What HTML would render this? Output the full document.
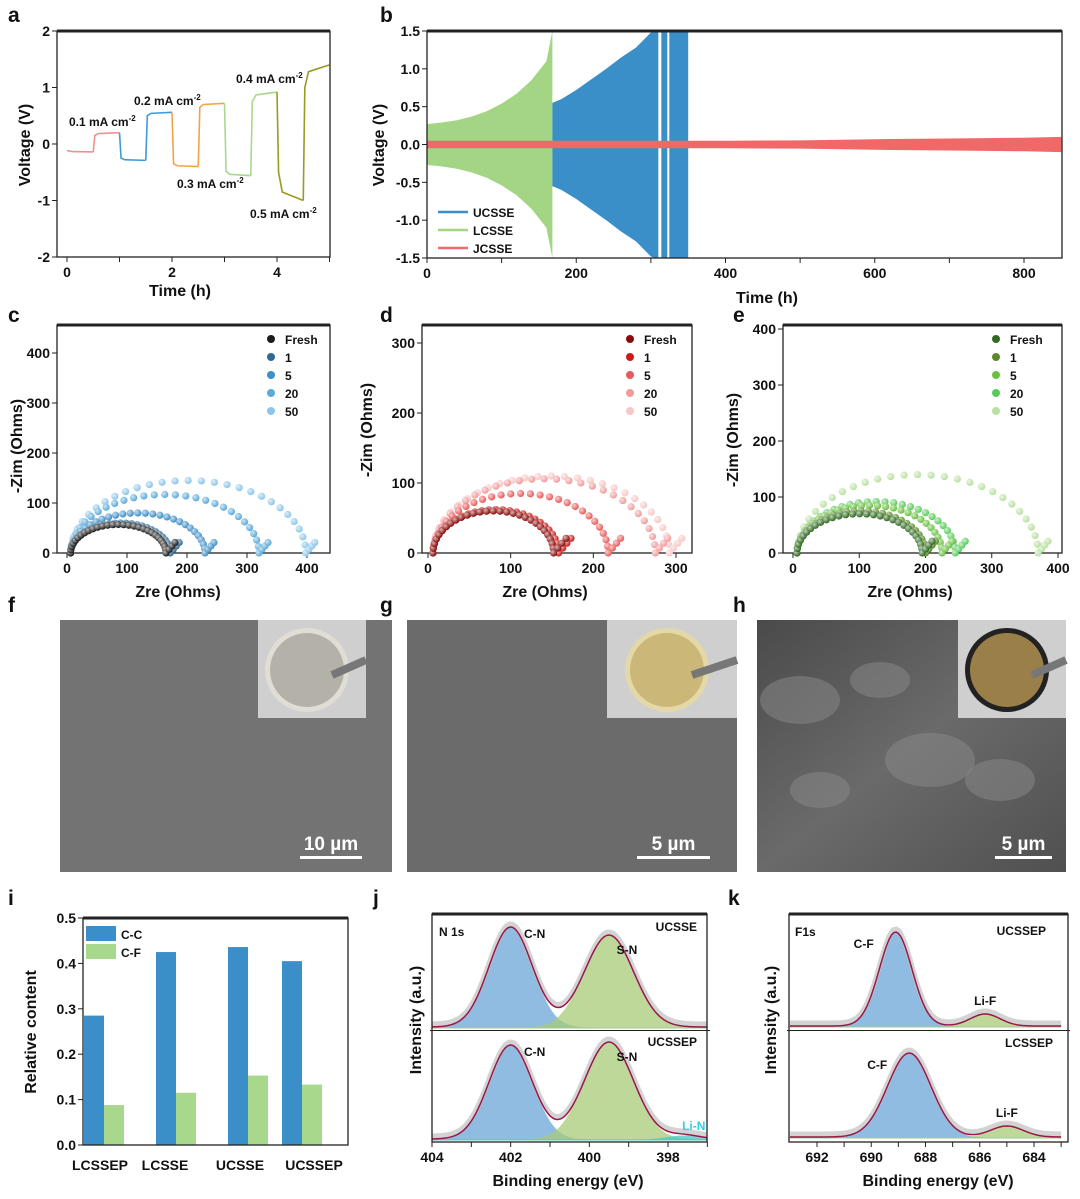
<!DOCTYPE html>
<html><head><meta charset="utf-8"><style>
body{margin:0;background:#fff}
svg{display:block;font-family:"Liberation Sans",Arial,sans-serif;font-weight:bold}
</style></head><body>
<svg id="fig" width="1080" height="1199" viewBox="0 0 1080 1199" xmlns="http://www.w3.org/2000/svg">
<defs>
<radialGradient id="sph" cx="35%" cy="35%" r="65%"><stop offset="0" stop-color="#fff" stop-opacity="0.7"/><stop offset="1" stop-color="#fff" stop-opacity="0"/></radialGradient>
<linearGradient id="semh" x1="0" y1="0" x2="1" y2="1"><stop offset="0" stop-color="#4a4a4a"/><stop offset="0.5" stop-color="#6a6a6a"/><stop offset="1" stop-color="#505050"/></linearGradient>
</defs>
</svg>
<script>
// ---- data ----
const aSegT0=[0,0.5,1,1.5,2,2.5,3,3.5,4,4.5];
const aSegV0=[-0.12,0.15,-0.25,0.5,-0.35,0.65,-0.48,0.75,-0.5,1.0];
const aSegV1=[-0.14,0.2,-0.29,0.56,-0.4,0.72,-0.56,0.92,-1.0,1.4];
const aSegC=["#f29090","#f29090","#3f9bd6","#3f9bd6","#f4a24a","#f4a24a","#a8d98a","#a8d98a","#9b9a22","#9b9a22"];
const bLT=[0,20,40,60,80,100,120,140,160,168];
const bLA=[0.27,0.29,0.32,0.37,0.44,0.54,0.67,0.85,1.1,1.5];
const bUT=[168,180,200,220,240,260,280,300,305,350];
const bUA=[0.55,0.6,0.72,0.86,1.0,1.15,1.28,1.48,1.5,1.5];
const bJT=[0,200,400,500,600,700,800,850];
const bJA=[0.05,0.05,0.05,0.055,0.07,0.08,0.09,0.1];
const nyLabels=["Fresh","1","5","20","50"];
const cEnd=[165,172,230,320,398];
const cH=[57,60,80,117,145];
const dEnd=[152,158,218,275,292];
const dH=[60,62,85,106,110];
const eEnd=[195,200,225,245,370];
const eH=[70,75,85,92,140];
const iCats=["LCSSEP","LCSSE","UCSSE","UCSSEP"];
const iCC=[0.285,0.425,0.436,0.405];
const iCF=[0.088,0.115,0.153,0.133];

const NS="http://www.w3.org/2000/svg";
const svg=document.getElementById('fig');
function el(tag,attrs,name,parent){
  const e=document.createElementNS(NS,tag);
  for(const k in attrs)e.setAttribute(k,attrs[k]);
  
  
  (parent||svg).appendChild(e);return e;
}
function txt(x,y,s,size,name,anchor,extra){
  const t=el('text',Object.assign({x:x,y:y,'font-size':size,'text-anchor':anchor||'middle',fill:'#111'},extra||{}),name);
  t.textContent=s;return t;
}
function txtSup(x,y,s,sup,size,name){
  const t=el('text',{x:x,y:y,'font-size':size,'text-anchor':'start',fill:'#111'},name);
  t.appendChild(document.createTextNode(s));
  const sp=el('tspan',{dy:-5,'font-size':8},name+'-superscript',t);
  sp.textContent=sup;return t;
}
function frame(x0,y0,x1,y1,name){
  el('rect',{x:x0,y:y0,width:x1-x0,height:y1-y0,fill:'none',stroke:'#222','stroke-width':1.3},name);
  el('line',{x1:x0,y1:y0,x2:x1,y2:y0,stroke:'#222','stroke-width':3},name+'-top');
}
function lin(d0,d1,r0,r1){return v=>r0+(v-d0)*(r1-r0)/(d1-d0);}
function xticks(xs,vals,labs,yb,name,size){
  vals.forEach((v,i)=>{el('line',{x1:xs(v),y1:yb,x2:xs(v),y2:yb+5,stroke:'#222'},name+'-tick');
    if(labs)txt(xs(v),yb+20,labs[i],size||14,name+'-label');});
}
function yticks(ys,vals,labs,xl,name,size){
  vals.forEach((v,i)=>{el('line',{x1:xl-5,y1:ys(v),x2:xl,y2:ys(v),stroke:'#222'},name+'-tick');
    if(labs)txt(xl-7,ys(v)+5,labs[i],size||14,name+'-label','end');});
}
function ytitle(x,y,s,name,size){txt(x,y,s,size||16,name,'middle',{transform:`rotate(-90 ${x} ${y})`});}
function plab(x,y,s){txt(x,y,s,21,'panel-label-'+s,'start');}

// ---- panel a ----
plab(8,22,'a');
{const xs=lin(0,5,67,329.5),ys=lin(-2,2,257,31);
frame(57,31,330,257,'a-plot-frame');
xticks(xs,[0,2,4],['0','2','4'],257,'a-x');
xticks(xs,[1,3,5],null,257,'a-x-minor');
yticks(ys,[-2,-1,0,1,2],['-2','-1','0','1','2'],57,'a-y');
aSegT0.forEach((t,i)=>{
  const prev=i>0?aSegV1[i-1]:aSegV0[0];
  const d=`M${xs(t)},${ys(prev)} L${xs(t+0.03)},${ys(aSegV0[i])} L${xs(t+0.1)},${ys((aSegV0[i]*0.3+aSegV1[i]*0.7))} L${xs(t+0.5)},${ys(aSegV1[i])}`;
  el('path',{d:d,fill:'none',stroke:aSegC[i],'stroke-width':1.6},'a-voltage-segment');
});
txtSup(69,126,'0.1 mA cm','-2',12,'a-label-0.1');
txtSup(134,105,'0.2 mA cm','-2',12,'a-label-0.2');
txtSup(177,188,'0.3 mA cm','-2',12,'a-label-0.3');
txtSup(236,83,'0.4 mA cm','-2',12,'a-label-0.4');
txtSup(250,218,'0.5 mA cm','-2',12,'a-label-0.5');
txt(180,296,'Time (h)',16,'a-x-title');
ytitle(30,145,'Voltage (V)','a-y-title');}

// ---- panel b ----
plab(380,22,'b');
{const xs=lin(0,800,427,1024),ys=lin(-1.5,1.5,258,31);
function band(T,A,col,name){
  let d='M'+T.map((t,i)=>xs(t)+','+ys(A[i])).join(' L');
  for(let i=T.length-1;i>=0;i--)d+=' L'+xs(T[i])+','+ys(-A[i]);
  el('path',{d:d+'Z',fill:col},name);
}
band(bLT,bLA,'#a3d585','b-lcsse-band');
band(bUT,bUA,'#3a8fc9','b-ucsse-band');
el('rect',{x:xs(310),y:31,width:3,height:227,fill:'#fff'},'b-ucsse-gap');
el('rect',{x:xs(322),y:31,width:2,height:227,fill:'#fff'},'b-ucsse-gap');
band(bJT,bJA,'#f06868','b-jcsse-band');
frame(427,31,1062,258,'b-plot-frame');
xticks(xs,[0,200,400,600,800],['0','200','400','600','800'],258,'b-x');
xticks(xs,[100,300,500,700],null,258,'b-x-minor');
yticks(ys,[-1.5,-1,-0.5,0,0.5,1,1.5],['-1.5','-1.0','-0.5','0.0','0.5','1.0','1.5'],427,'b-y');
[['UCSSE','#3a8fc9'],['LCSSE','#a3d585'],['JCSSE','#f06868']].forEach((l,i)=>{
  el('line',{x1:438,y1:212+i*18,x2:468,y2:212+i*18,stroke:l[1],'stroke-width':2.5},'b-legend-swatch');
  txt(473,217+i*18,l[0],12,'b-legend-entry','start');});
txt(767,303,'Time (h)',16,'b-x-title');
ytitle(384,145,'Voltage (V)','b-y-title');}

// ---- Nyquist panels ----
function nyquist(id,x0,x1,y0,y1,xs,ys,ends,hs,cols,xt,yt,legX,titX){
  frame(x0,y0,x1,y1,id+'-plot-frame');
  xticks(xs,xt,xt.map(String),y1,id+'-x');
  yticks(ys,yt,yt.map(String),x0,id+'-y');
  for(let s=ends.length-1;s>=0;s--){
    const r0=6,D=ends[s]-r0,H=hs[s];
    const pts=[];
    for(let k=0;k<=28;k++){const th=Math.PI*k/28;pts.push([r0+D/2-D/2*Math.cos(th),H*Math.sin(th)]);}
    for(let k=1;k<=3;k++)pts.push([ends[s]+k*5,k*7]);
    pts.forEach(p=>{
      el('circle',{cx:xs(p[0]),cy:ys(p[1]),r:3.6,fill:cols[s]},id+'-point-'+nyLabels[s]);
      el('circle',{cx:xs(p[0]),cy:ys(p[1]),r:3.6,fill:'url(#sph)'},id+'-point-shine');
    });
  }
  nyLabels.forEach((l,i)=>{
    el('circle',{cx:legX,cy:y0+14+i*18,r:4,fill:cols[i]},id+'-legend-marker');
    txt(legX+14,y0+19+i*18,l,12,id+'-legend-entry','start');});
  txt(titX,597,'Zre (Ohms)',16,id+'-x-title');
}
plab(8,322,'c');
nyquist('c',57,330,325,553,lin(0,400,67,307),lin(0,100,553,503),cEnd,cH,
 ['#1b1b1b','#2e6a99','#3f8fc6','#5aaadb','#8cc6ea'],[0,100,200,300,400],[0,100,200,300,400],271,178);
ytitle(22,446,'-Zim (Ohms)','c-y-title');
plab(380,322,'d');
nyquist('d',422,692,325,553,lin(0,300,428,676),lin(0,100,553,483),dEnd,dH,
 ['#8a0a0a','#d01818','#ea5a5a','#f29a9a','#f8c6c6'],[0,100,200,300],[0,100,200,300],630,545);
ytitle(372,430,'-Zim (Ohms)','d-y-title');
plab(733,322,'e');
nyquist('e',783,1062,325,553,lin(0,400,793,1058),lin(0,100,553,497),eEnd,eH,
 ['#2f6a20','#5a8a28','#6ac040','#58cc5a','#b8e0a0'],[0,100,200,300,400],[0,100,200,300,400],996,910);
ytitle(738,440,'-Zim (Ohms)','e-y-title');

// ---- SEM panels ----
function sem(id,x,y,w,h,fill,ix,iw,coin,rim,scale,sbx,sbw){
  el('rect',{x:x,y:y,width:w,height:h,fill:fill},id+'-sem-image');
  el('rect',{x:ix,y:y,width:iw,height:98,fill:'#cfcfcf'},id+'-inset-photo');
  el('circle',{cx:ix+iw/2-5,cy:y+50,r:42,fill:rim},id+'-inset-rim');
  el('circle',{cx:ix+iw/2-5,cy:y+50,r:37,fill:coin},id+'-inset-sample');
  el('line',{x1:ix+iw/2+20,y1:y+55,x2:ix+iw,y2:y+40,stroke:'#777','stroke-width':8},id+'-inset-tweezer');
  txt(sbx+sbw/2,y+230,scale,19,id+'-scale-text','middle',{fill:'#fff'});
  el('rect',{x:sbx,y:y+236,width:sbw,height:3,fill:'#fff'},id+'-scale-bar');
}
plab(8,612,'f');plab(380,612,'g');plab(733,612,'h');
sem('f',60,620,332,252,'#737373',258,108,'#b4b2a8','#e0ddd4','10 µm',300,62);
sem('g',407,620,330,252,'#6b6b6b',607,130,'#cbb878','#e4d8a8','5 µm',637,73);
sem('h',757,620,309,252,'url(#semh)',958,108,'#9a8048','#222','5 µm',995,57);
[[800,700,40],[880,680,30],[930,760,45],[820,790,30],[1000,780,35]].forEach(b=>
  el('ellipse',{cx:b[0],cy:b[1],rx:b[2],ry:b[2]*0.6,fill:'#8a8a8a',opacity:0.5},'h-sem-texture'));

// ---- panel i ----
plab(8,905,'i');
{const ys=lin(0,0.5,1145,918),cx=[104,176,248,302],bw=20;
iCats.forEach((c,i)=>{
  el('rect',{x:cx[i]-bw,y:ys(iCC[i]),width:bw,height:1145-ys(iCC[i]),fill:'#3b8fc8'},'i-bar-cc-'+c);
  el('rect',{x:cx[i],y:ys(iCF[i]),width:bw,height:1145-ys(iCF[i]),fill:'#a8d88c'},'i-bar-cf-'+c);
});
[100,165,240,314].forEach((x,i)=>txt(x,1170,iCats[i],14,'i-x-label'));
frame(83,918,348,1145,'i-plot-frame');
yticks(ys,[0,0.1,0.2,0.3,0.4,0.5],['0.0','0.1','0.2','0.3','0.4','0.5'],83,'i-y');
el('rect',{x:86,y:926,width:30,height:15,fill:'#3b8fc8'},'i-legend-swatch-cc');
txt(121,939,'C-C',12,'i-legend-entry','start');
el('rect',{x:86,y:944,width:30,height:15,fill:'#a8d88c'},'i-legend-swatch-cf');
txt(121,957,'C-F',12,'i-legend-entry','start');
ytitle(36,1032,'Relative content','i-y-title');}

// ---- XPS panels ----
function gauss(x,c,s){return Math.exp(-0.5*((x-c)/s)**2);}
function xps(id,xs,lo,hi,base,peaks,lab){
  const N=120,pts=[];
  for(let k=0;k<=N;k++)pts.push(hi-(hi-lo)*k/N);
  peaks.forEach(p=>{
    let d=`M${xs(pts[0])},${base}`;
    pts.forEach(x=>d+=` L${xs(x)},${base-p.a*gauss(x,p.c,p.s)}`);
    d+=` L${xs(pts[N])},${base}Z`;
    el('path',{d:d,fill:p.col,opacity:0.75,stroke:p.col},id+'-peak-'+p.n);
  });
  let env='',raw='';
  pts.forEach((x,k)=>{let y=base-1;peaks.forEach(p=>y-=p.a*gauss(x,p.c,p.s));
    env+=(k?' L':'M')+xs(x)+','+y;raw+=(k?' L':'M')+xs(x)+','+(y-3);});
  el('path',{d:raw,fill:'none',stroke:'#c8c8c8','stroke-width':5,opacity:0.8},id+'-raw-data');
  el('path',{d:env,fill:'none',stroke:'#9a1848','stroke-width':1.5},id+'-fit-envelope');
  peaks.forEach(p=>txt(xs(p.c)+p.lx,base-p.a+p.ly,p.n,12,id+'-peak-label','middle',p.lc?{fill:p.lc}:null));
}
plab(373,905,'j');
{const xs=lin(404,398,432,668);
xps('j-top',xs,397,404,1028,[{c:402,s:0.55,a:100,col:'#6aa6d6',n:'C-N',lx:24,ly:10},{c:399.5,s:0.62,a:92,col:'#a8cc78',n:'S-N',lx:18,ly:18}]);
xps('j-bot',xs,397,404,1140,[{c:402,s:0.55,a:94,col:'#6aa6d6',n:'C-N',lx:24,ly:10},{c:399.5,s:0.62,a:97,col:'#a8cc78',n:'S-N',lx:18,ly:18},{c:397.6,s:0.4,a:4,col:'#40c8c8',n:'Li-N',lx:10,ly:-6,lc:'#30d0e0'}]);
el('rect',{x:430,y:1030,width:280,height:1,fill:'#222'},'j-divider');
frame(432,914,707,1142,'j-plot-frame');
xticks(xs,[404,402,400,398],['404','402','400','398'],1142,'j-x');
xticks(xs,[403,401,399,397],null,1142,'j-x-minor');
txt(439,936,'N 1s',12,'j-core-level','start');
txt(697,931,'UCSSE',12,'j-top-sample','end');
txt(697,1046,'UCSSEP',12,'j-bot-sample','end');
txt(568,1186,'Binding energy (eV)',16,'j-x-title');
ytitle(421,1020,'Intensity (a.u.)','j-y-title');}
plab(728,905,'k');
{const xs=lin(692,684,817,1034);
xps('k-top',xs,683,693,1027,[{c:689.1,s:0.6,a:94,col:'#6aa6d6',n:'C-F',lx:-32,ly:15},{c:685.8,s:0.55,a:12,col:'#a8cc78',n:'Li-F',lx:0,ly:-10}]);
xps('k-bot',xs,683,693,1138,[{c:688.6,s:0.8,a:84,col:'#6aa6d6',n:'C-F',lx:-32,ly:15},{c:685,s:0.6,a:11,col:'#a8cc78',n:'Li-F',lx:0,ly:-10}]);
el('rect',{x:787,y:1030,width:283,height:1,fill:'#222'},'k-divider');
frame(789,914,1068,1142,'k-plot-frame');
xticks(xs,[692,690,688,686,684],['692','690','688','686','684'],1142,'k-x');
xticks(xs,[691,689,687,685,683],null,1142,'k-x-minor');
txt(795,936,'F1s',12,'k-core-level','start');
txt(1046,935,'UCSSEP',12,'k-top-sample','end');
txt(1053,1047,'LCSSEP',12,'k-bot-sample','end');
txt(938,1186,'Binding energy (eV)',16,'k-x-title');
ytitle(776,1020,'Intensity (a.u.)','k-y-title');}
</script>
</body></html>
